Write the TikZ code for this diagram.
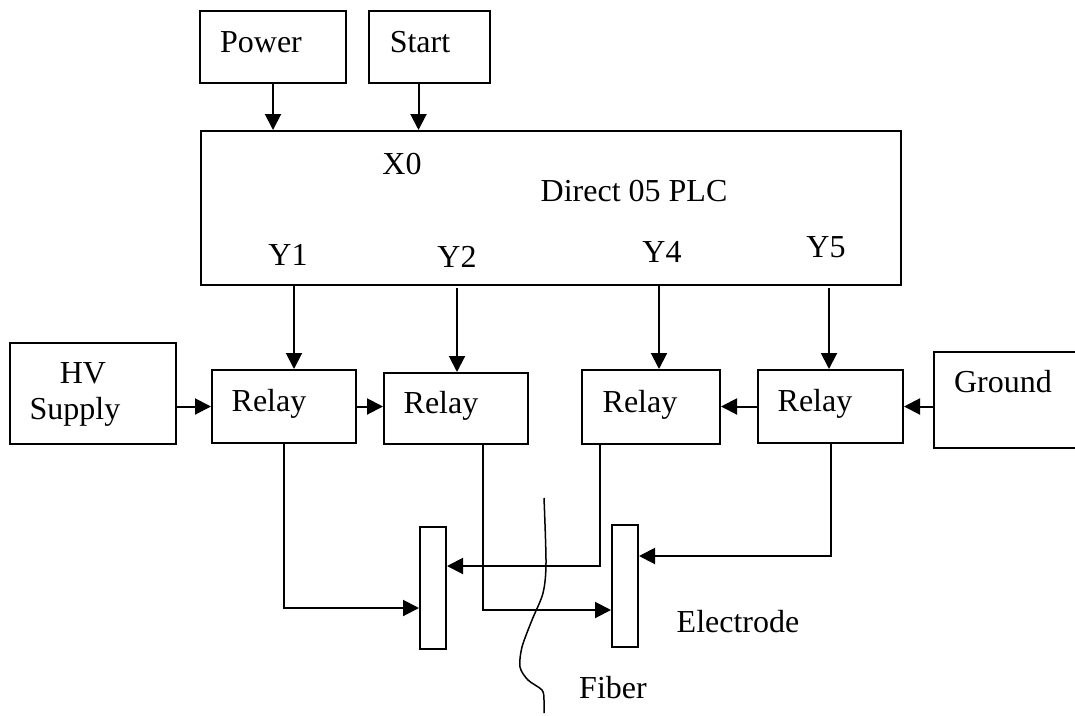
\documentclass[tikz,border=0pt]{standalone}
\usepackage{fontspec}
\setmainfont{Liberation Serif}
\usetikzlibrary{arrows.meta,positioning,calc}

\begin{document}
\begin{tikzpicture}[x=1pt,y=-1pt,
  every node/.style={font=\fontsize{32}{36}\selectfont},
  box/.style={draw, line width=2pt, inner sep=0pt},
  relay/.style={box, minimum width=144pt, minimum height=73pt},
  arr/.style={line width=2pt, -{Triangle[length=16pt,width=16pt]}}]
  \useasboundingbox (0,0) rectangle (1075,715);
  \node[box, minimum width=146pt, minimum height=72pt] (power) at (273,47) {};
  \node[box, minimum width=121pt, minimum height=72pt] (start) at (429.5,47) {};
  \node[box, minimum width=700pt, minimum height=154pt] (plc) at (551,208) {};
  \node[box, minimum width=166pt, minimum height=101pt] (hv) at (93,393.5) {};
  \node[relay] (relayA) at (284,406.5) {};
  \node[relay, minimum height=71pt] (relayB) at (456,408.5) {};
  \node[relay, minimum width=138pt, minimum height=74pt] (relayC) at (651,407) {};
  \node[relay, minimum width=145pt] (relayD) at (830.5,406.5) {};
  \node[box, minimum width=148pt, minimum height=96pt] (ground) at (1008,400) {};
  \node[box, minimum width=26pt, minimum height=122pt] (elecA) at (433,588) {};
  \node[box, minimum width=26pt, minimum height=122pt] (elecB) at (625,586) {};
  \node[anchor=base] (powertxt) at (261,52) {Power};
  \node[anchor=base] (starttxt) at (420,52) {Start};
  \node[anchor=base] (x0txt) at (402,174) {X0};
  \node[anchor=base] (plctxt) at (634,201) {Direct 05 PLC};
  \node[anchor=base] (y1txt) at (288,265) {Y1};
  \node[anchor=base] (y2txt) at (457,267) {Y2};
  \node[anchor=base] (y4txt) at (662,262) {Y4};
  \node[anchor=base] (y5txt) at (826,257) {Y5};
  \node[anchor=base] (hvtxt) at (83,383) {HV};
  \node[anchor=base] (supplytxt) at (75,419) {Supply};
  \node[anchor=base] (relayAtxt) at (269,411) {Relay};
  \node[anchor=base] (relayBtxt) at (441,413) {Relay};
  \node[anchor=base] (relayCtxt) at (640,412) {Relay};
  \node[anchor=base] (relayDtxt) at (815,411) {Relay};
  \node[anchor=base] (groundtxt) at (1003,392) {Ground};
  \node[anchor=base] (electxt) at (738,632) {Electrode};
  \node[anchor=base] (fibertxt) at (613,698) {Fiber};
  \coordinate (y1) at (294,285);
  \coordinate (y2) at (457,288);
  \coordinate (y4) at (659,285);
  \coordinate (y5) at (829,288);
  \draw[arr] (power.south) -- (power.south |- plc.north);
  \draw[arr] ([xshift=-11pt]start.south) -- ([xshift=-11pt]start.south |- plc.north);
  \draw[arr] (y1) -- (y1 |- relayA.north);
  \draw[arr] (y2) -- (y2 |- relayB.north);
  \draw[arr] (y4) -- (y4 |- relayC.north);
  \draw[arr] (y5) -- (y5 |- relayD.north);
  \draw[arr] (hv.east |- relayA.west) -- (relayA.west);
  \draw[arr] (relayA.east) -- (relayA.east -| relayB.west);
  \draw[arr] (relayD.west) -- (relayD.west -| relayC.east);
  \draw[arr] (ground.west |- relayD.east) -- (relayD.east);
  \draw[arr] (relayA.south) |- ([yshift=-20pt]elecA.west);
  \draw[arr] ([xshift=27pt]relayB.south) |- ([yshift=-24pt]elecB.west);
  \draw[arr] ([xshift=-51pt]relayC.south) |- ([yshift=22pt]elecA.east);
  \draw[arr] (relayD.south) |- ([yshift=30pt]elecB.east);
  \draw[line width=1.5pt] plot[smooth] coordinates {(544,498) (546,563) (543,593) (532,620) (522,647) (520,667) (528,680) (542,690) (544,700) (544,713)};
\end{tikzpicture}
\end{document}
